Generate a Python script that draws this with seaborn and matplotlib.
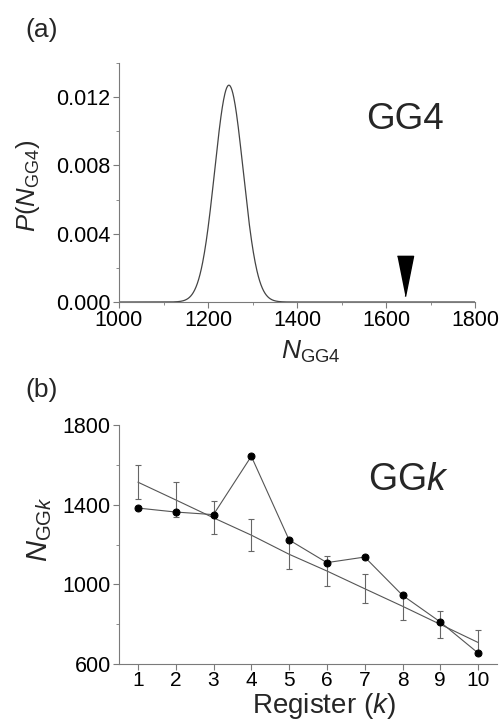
import numpy as np
import pandas as pd
import matplotlib
matplotlib.use("Agg")
import matplotlib.pyplot as plt
from matplotlib.ticker import MultipleLocator, FixedLocator
import seaborn as sns

# ---- data ----
# panel (a): distribution of N_GG4 (gaussian shape parameters)
pdf_mean = 1247.0
pdf_sd = 32.0
pdf_peak = 0.0127
# panel (b)
register_k = [1, 2, 3, 4, 5, 6, 7, 8, 9, 10]
n_ggk = [1383, 1363, 1350, 1643, 1223, 1109, 1137, 945, 811, 655]
fit_mean = [1513, 1424, 1334, 1247, 1151, 1067, 978, 890, 799, 708]
fit_err = [86, 88, 83, 81, 76, 75, 73, 68, 67, 63]
x_ticks_b = [1, 2, 3, 4, 5, 6, 7, 8, 9, 10]
y_ticks_b = [600, 1000, 1400, 1800]
y_minor_b = [800, 1200, 1600]

sns.set_theme(style="ticks")
plt.rcParams['font.family'] = ['Liberation Sans', 'DejaVu Sans']
plt.rcParams['mathtext.fontset'] = 'custom'
plt.rcParams['mathtext.rm'] = 'Liberation Sans'
plt.rcParams['mathtext.it'] = 'Liberation Sans:italic'

W, H = 503, 721
fig = plt.figure(figsize=(W / 100, H / 100), dpi=100)

spine_col = '#7a7a7a'
line_col = '#555555'


def style_axes(ax):
    sns.despine(ax=ax)
    for s in ['left', 'bottom']:
        ax.spines[s].set_color(spine_col)
        ax.spines[s].set_linewidth(0.8)
    ax.tick_params(which='major', direction='out', length=4, width=0.8,
                   color=spine_col, labelsize=15.5, labelcolor='black', pad=2)
    ax.tick_params(which='minor', direction='out', length=2.5, width=0.6,
                   color=spine_col)


# ---- panel (a) ----
axa = fig.add_axes([119 / W, 1 - 302 / H, (475 - 119) / W, (302 - 63) / H])
xg = np.linspace(1000, 1800, 801)
pdf = pdf_peak * np.exp(-0.5 * ((xg - pdf_mean) / pdf_sd) ** 2)
dfa = pd.DataFrame({'N': xg, 'P': pdf})
sns.lineplot(data=dfa, x='N', y='P', ax=axa, color='#444444', linewidth=0.9)
axa.set_xlim(1000, 1800)
axa.set_ylim(0, 0.014)
axa.xaxis.set_major_locator(MultipleLocator(200))
axa.xaxis.set_minor_locator(MultipleLocator(100))
axa.yaxis.set_major_locator(MultipleLocator(0.004))
axa.yaxis.set_minor_locator(MultipleLocator(0.002))
axa.yaxis.set_major_formatter(plt.FuncFormatter(lambda v, p: f"{v:.3f}"))
style_axes(axa)
# observed value marker (the k=4 register value)
tri = [(-0.2, 0.5), (0.2, 0.5), (0.0, -0.5)]
axa.plot([n_ggk[3]], [0.00155], marker=tri, markersize=29, color='black',
         linestyle='none')
axa.set_xlabel(r'$N_{\mathrm{GG4}}$', fontsize=19)
axa.xaxis.set_label_coords(0.54, -0.155)
axa.set_ylabel(r'$P(N_{\mathrm{GG4}})$', fontsize=18.5)
axa.yaxis.set_label_coords(-0.216, 0.485)
axa.text(0.803, 0.762, 'GG4', transform=axa.transAxes, ha='center',
         va='center', fontsize=26.5)
fig.text(25 / W, 1 - 30 / H, '(a)', fontsize=19, ha='left', va='center')

# ---- panel (b) ----
axb = fig.add_axes([119 / W, 1 - 664 / H, (497 - 119) / W, (664 - 425) / H])
dfb = pd.DataFrame({'k': register_k, 'N': n_ggk, 'fit': fit_mean,
                    'err': fit_err})
sns.lineplot(data=dfb, x='k', y='fit', ax=axb, color=line_col, linewidth=0.8)
axb.errorbar(dfb['k'], dfb['fit'], yerr=dfb['err'], fmt='none',
             ecolor='#666666', elinewidth=0.8, capsize=2.5, capthick=0.8)
sns.lineplot(data=dfb, x='k', y='N', ax=axb, color=line_col, linewidth=0.8,
             marker='o', markersize=5, markerfacecolor='black',
             markeredgecolor='black')
axb.set_xlim(0.5, 10.5)
axb.set_ylim(600, 1800)
axb.set_xticks(x_ticks_b)
axb.yaxis.set_major_locator(FixedLocator(y_ticks_b))
axb.yaxis.set_minor_locator(FixedLocator(y_minor_b))
style_axes(axb)
axb.tick_params(axis='x', which='major', pad=1, labelsize=15)
axb.set_xlabel(r'Register ($k$)', fontsize=20)
axb.xaxis.set_label_coords(0.542, -0.112)
axb.set_ylabel(r'$N_{\mathrm{GG}k}$', fontsize=21)
axb.yaxis.set_label_coords(-0.172, 0.565)
axb.text(0.765, 0.77, r'GG$k$', transform=axb.transAxes, ha='center',
         va='center', fontsize=27)
fig.text(25 / W, 1 - 390 / H, '(b)', fontsize=19, ha='left', va='center')

fig.savefig('out.png', dpi=100)
